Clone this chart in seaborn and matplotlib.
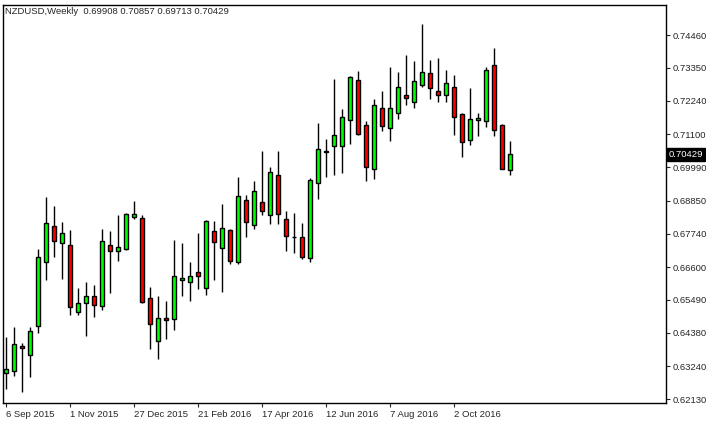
import numpy as np
import pandas as pd
import matplotlib
matplotlib.use("Agg")
import matplotlib.pyplot as plt
import seaborn as sns

# weekly NZDUSD candles
opens = [0.6301, 0.6308, 0.6393, 0.6362, 0.6461, 0.6677, 0.6799, 0.6741, 0.6735, 0.6508,
         0.6539, 0.6562, 0.6528, 0.6735, 0.6715, 0.6721, 0.6830, 0.6826, 0.6555, 0.6410,
         0.6488, 0.6485, 0.6616, 0.6610, 0.6644, 0.6589, 0.6782, 0.6725, 0.6786, 0.6677,
         0.6887, 0.6803, 0.6881, 0.6837, 0.6972, 0.6823, 0.6761, 0.6761, 0.6691, 0.6945,
         0.7050, 0.7070, 0.7070, 0.7158, 0.7294, 0.7141, 0.6992, 0.7199, 0.7132, 0.7182,
         0.7243, 0.7219, 0.7277, 0.7317, 0.7256, 0.7243, 0.7270, 0.7178, 0.7091, 0.7158,
         0.7155, 0.7344, 0.7141, 0.69908]
highs = [0.6423, 0.6457, 0.6403, 0.6457, 0.6721, 0.6897, 0.6867, 0.6813, 0.6786, 0.6589,
         0.6610, 0.6599, 0.6789, 0.6782, 0.6837, 0.6843, 0.6884, 0.6837, 0.6593, 0.6562,
         0.6545, 0.6752, 0.6741, 0.6677, 0.6776, 0.6820, 0.6816, 0.6874, 0.6789, 0.6965,
         0.6904, 0.6952, 0.7053, 0.6999, 0.7053, 0.6850, 0.6843, 0.6809, 0.6962, 0.7148,
         0.7094, 0.7297, 0.7195, 0.7307, 0.7324, 0.7155, 0.7229, 0.7256, 0.7338, 0.7321,
         0.7378, 0.7358, 0.7483, 0.7361, 0.7368, 0.7327, 0.7311, 0.7182, 0.7267, 0.7182,
         0.7338, 0.7402, 0.7144, 0.70857]
lows = [0.6247, 0.6291, 0.6237, 0.6288, 0.6437, 0.6616, 0.6694, 0.6620, 0.6498, 0.6498,
        0.6427, 0.6491, 0.6515, 0.6572, 0.6681, 0.6718, 0.6823, 0.6539, 0.6383, 0.6349,
        0.6417, 0.6447, 0.6562, 0.6545, 0.6586, 0.6566, 0.6616, 0.6576, 0.6671, 0.6671,
        0.6762, 0.6789, 0.6837, 0.6806, 0.6806, 0.6715, 0.6708, 0.6688, 0.6677, 0.6891,
        0.6965, 0.6972, 0.6979, 0.7077, 0.7107, 0.6952, 0.6958, 0.7121, 0.7087, 0.7162,
        0.7209, 0.7199, 0.7270, 0.7229, 0.7219, 0.7219, 0.7107, 0.7033, 0.7074, 0.7104,
        0.7134, 0.7104, 0.6999, 0.69713]
closes = [0.6315, 0.6400, 0.6386, 0.6444, 0.6694, 0.6809, 0.6748, 0.6776, 0.6525, 0.6539,
          0.6562, 0.6532, 0.6748, 0.6715, 0.6728, 0.6840, 0.6840, 0.6542, 0.6467, 0.6488,
          0.6481, 0.6630, 0.6623, 0.6630, 0.6630, 0.6816, 0.6745, 0.6792, 0.6681, 0.6901,
          0.6813, 0.6918, 0.6850, 0.6982, 0.6840, 0.6765, 0.6762, 0.6694, 0.6955, 0.7060,
          0.7053, 0.7107, 0.7168, 0.7304, 0.7111, 0.6999, 0.7209, 0.7138, 0.7199, 0.7270,
          0.7233, 0.7290, 0.7321, 0.7267, 0.7243, 0.7283, 0.7168, 0.7084, 0.7162, 0.7165,
          0.7327, 0.7124, 0.6991, 0.70429]

date_labels = ["6 Sep 2015", "1 Nov 2015", "27 Dec 2015", "21 Feb 2016",
               "17 Apr 2016", "12 Jun 2016", "7 Aug 2016", "2 Oct 2016"]
price_ticks = [0.74460, 0.73350, 0.72240, 0.71100, 0.69990, 0.68850,
               0.67740, 0.66600, 0.65490, 0.64380, 0.63240, 0.62130]
title = "NZDUSD,Weekly  0.69908 0.70857 0.69713 0.70429"

df = pd.DataFrame({"open": opens, "high": highs, "low": lows, "close": closes})
df["idx"] = np.arange(len(df))
df["up"] = df["close"] >= df["open"]

sns.set_style("white")
plt.rcParams["font.family"] = ["Liberation Sans", "DejaVu Sans"]
FS = 6.8

fig = plt.figure(figsize=(7.06, 4.24), dpi=100)
ax = fig.add_axes([3 / 706, 21 / 424, 663 / 706, 398 / 424])

ax.vlines(df["idx"], df["low"], df["high"], color="black", linewidth=1, zorder=1)
bottoms = df[["open", "close"]].min(axis=1)
heights = (df["close"] - df["open"]).abs().clip(lower=0.00025)
colors = np.where(df["up"], "#00ff00", "#ff0000")
ax.bar(df["idx"], heights, bottom=bottoms, width=0.62, color=colors,
       edgecolor="black", linewidth=1, zorder=2)

ax.set_xlim(-0.375, 82.5)
ax.set_ylim(0.6200, 0.7548)

ax.yaxis.tick_right()
ax.set_yticks(price_ticks)
ax.set_yticklabels([f"{p:.5f}" for p in price_ticks], fontsize=FS)
ax.tick_params(axis="y", length=3, pad=2, direction="out", right=True)

ax.set_xticks(np.arange(0, 64, 8))
ax.set_xticklabels(date_labels, fontsize=FS, ha="left")
ax.tick_params(axis="x", length=3, pad=2, direction="out", bottom=True)

for s in ax.spines.values():
    s.set_color("black")
    s.set_linewidth(1)

ax.text(0.003, 0.995, title, transform=ax.transAxes, fontsize=FS,
        va="top", ha="left")

ax.text(1.004, closes[-1], f"{closes[-1]:.5f}", transform=ax.get_yaxis_transform(),
        fontsize=FS, color="white", va="center", ha="left",
        bbox=dict(boxstyle="square,pad=0.2", fc="black", ec="black"))

fig.savefig("out.png", dpi=100)
